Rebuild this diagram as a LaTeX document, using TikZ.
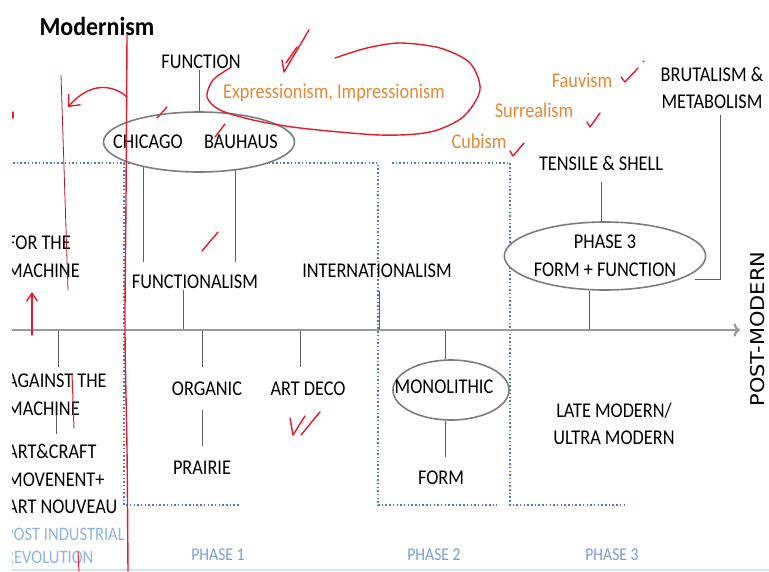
\documentclass[tikz,border=0pt]{standalone}
\usepackage{fontspec}
\setmainfont{Carlito}[FakeStretch=0.87]
\newfontfamily\titlefont{Carlito}[FakeStretch=0.92]
\newfontfamily\sidefont{DejaVu Sans}[FakeStretch=1.1]
\usepackage{tikz}
\definecolor{penred}{RGB}{225,28,45}
\definecolor{inkgray}{RGB}{95,95,95}
\definecolor{ovalgray}{RGB}{125,125,125}
\definecolor{axisgray}{RGB}{155,155,155}
\definecolor{dotblue}{RGB}{80,122,190}
\definecolor{artorange}{RGB}{228,136,56}
\definecolor{paleblue}{RGB}{141,180,226}
\definecolor{phaseblue}{RGB}{118,158,214}
\definecolor{baseblue}{RGB}{205,232,247}
\usetikzlibrary{positioning,backgrounds,shapes.geometric,arrows.meta}
\tikzset{%
  word/.style={font=\fontsize{21}{27.5}\selectfont, text=black, inner sep=1pt, align=center},% caption
  side/.style={word, anchor=west, align=left, inner sep=0pt},% cut at the left edge
  art/.style={word, text=artorange},% art movements
  phase/.style={font=\fontsize{18}{20}\selectfont, text=phaseblue},
  oval/.style={draw=ovalgray, line width=1.6pt, ellipse, fill=white, inner sep=0pt},
  stem/.style={draw=inkgray, line width=0.9pt},
  timeline/.style={draw=axisgray, line width=2.2pt, ->},
  bracket/.style={draw=dotblue, line width=1.5pt, dash pattern=on 1.5pt off 2.2pt},% phase borders
  pen/.style={draw=penred, line width=1.4pt, line cap=round, line join=round},% red marker
  tick/.style={pen}% check marks
}

\begin{document}
\begin{tikzpicture}[x=1pt, y=-1pt]
\useasboundingbox (0,0) rectangle (769,571);
\clip (12,0) rectangle (769,571);

\node[font=\titlefont\bfseries\fontsize{26}{30}\selectfont] (title) at (97,26) {Modernism};

\coordinate (axisL) at (12,330);
\coordinate (axisR) at (740,330);
\coordinate (baseL) at (12,570);
\coordinate (baseR) at (769,570);
\draw[timeline] (axisL) -- (axisR);
\draw[baseblue, line width=1.5pt] (baseL) -- (baseR);

% top row
\node[word] (function) at (201,62) {FUNCTION};
\node[oval, minimum width=191, minimum height=60] (chibau) at (199,142) {};
\node[word] (chicago) at (148,142) {CHICAGO};
\node[word] (bauhaus) at (241,142) {BAUHAUS};
\node[art] (expr) at (334,93) {Expressionism, Impressionism};
\node[art] (fauvism) at (582,80) {Fauvism};
\node[art] (surreal) at (534,110) {Surrealism};
\node[art] (cubism) at (479,141) {Cubism};
\node[word] (brutal) at (712,88) {BRUTALISM \&\\METABOLISM};
\node[word] (tensile) at (601,163) {TENSILE \& SHELL};
\node[word, oval, minimum width=193, minimum height=68] (phase3) at (605,256) {PHASE 3\\FORM + FUNCTION};

% above the line
\node[side] (forMachine) at (7,257) {FOR THE\\MACHINE};
\node[word] (functionalism) at (195,282) {FUNCTIONALISM};
\node[word] (intl) at (377,271) {INTERNATIONALISM};

% below the line
\node[side] (against) at (7,395) {AGAINST THE\\MACHINE};
\node[side] (artcraft) at (7,479) {ART\&CRAFT\\MOVENENT+\\ART NOUVEAU};
\node[side, text=paleblue, font=\fontsize{19}{23}\selectfont] (postind) at (5,546) {POST INDUSTRIAL\\REVOLUTION};
\node[word] (organic) at (207,389) {ORGANIC};
\node[word] (prairie) at (202,468) {PRAIRIE};
\node[word] (artdeco) at (308,389) {ART DECO};
\node[oval, minimum width=116, minimum height=60] (monoOval) at (451,390) {};
\node[word] (mono) at (444,387) {MONOLITHIC};
\node[word] (form) at (441,478) {FORM};
\node[word] (late) at (614,424) {LATE MODERN/\\ULTRA MODERN};

\node[phase] (ph1) at (218,555) {PHASE 1};
\node[phase] (ph2) at (434,555) {PHASE 2};
\node[phase] (ph3) at (612,555) {PHASE 3};
\node[rotate=90, font=\sidefont\fontsize{19}{22}\selectfont] (postmod) at (758,329) {POST-MODERN};

\coordinate (chiFoot) at (143,262);
\coordinate (bauFoot) at (235,262);
\coordinate (tAgainst) at (58,330);
\coordinate (tFunc) at (183,330);
\coordinate (tOrganic) at (202,330);
\coordinate (tDeco) at (300,330);
\coordinate (tIntl) at (379,330);
\coordinate (tMono) at (445,330);
\coordinate (tPhase) at (589,330);
\coordinate (bTurn) at (720,279);
\coordinate (bEnd) at (695,279);

\begin{scope}[on background layer]
  \draw[bracket] (13,163) -- (124,163) -- (124,505) -- (240,505);
  \draw[bracket] (128,163) -- (378,163) -- (378,505) -- (497,505);
  \draw[bracket] (392,163) -- (510,163) -- (510,505) -- (627,505);

  \draw[stem] (chibau.north |- function.south) -- (chibau.north);
  \draw[stem] (chiFoot) -- (chiFoot |- chibau.center);
  \draw[stem] (bauFoot) -- (bauFoot |- chibau.center);
  \draw[stem] (tFunc) -- (tFunc |- functionalism.south);
  \draw[stem, shorten >=12pt] (tIntl) -- (tIntl |- intl.south);
  \draw[stem, shorten >=7pt] (tAgainst) -- (tAgainst |- against.north);
  \draw[stem, shorten <=-2pt, shorten >=10pt] (against.south) -- (against.south |- artcraft.north);
  \draw[stem, shorten >=14pt] (tOrganic) -- (tOrganic |- organic.north);
  \draw[stem, shorten <=13pt, shorten >=14pt] (tOrganic |- organic.south) -- (tOrganic |- prairie.north);
  \draw[stem, shorten >=14pt] (tDeco) -- (tDeco |- artdeco.north);
  \draw[stem] (tMono) -- (tMono |- monoOval.north);
  \draw[stem, shorten >=13pt] (tMono |- monoOval.south) -- (tMono |- form.north);
  \draw[stem] (tPhase) -- (tPhase |- phase3.south);
  \draw[stem, shorten <=11pt] (tensile.south) -- (tensile.south |- phase3.north);
  \draw[stem, shorten <=5pt] (brutal.south -| bTurn) -- (bTurn) -- (bEnd);
\end{scope}

% red marker notes
\draw[pen] plot[smooth] coordinates {(127,35) (126,200) (125,330) (127,450) (128,571)};
\draw[pen, -{Straight Barb[length=9pt, width=16pt]}] (127,97) .. controls (112,84) and (90,82) .. (68,107);
\draw[penred!80!black, line width=0.8pt] (61,75) -- (68,290);
\draw[pen, -{Straight Barb[length=8pt, width=11pt]}] (32,335) -- (32,292);
\draw[pen] (13,112) -- (13,118);
\draw[pen, line width=1pt] (72,373) -- (74,428);
\draw[pen, line width=1pt] (78,552) -- (79,571);
\draw[pen] plot[smooth] coordinates {(230,68) (213,80) (207,97) (220,110) (253,120) (300,128) (380,135) (430,132) (463,117) (480,90) (470,63) (440,48) (400,43) (367,48) (335,58)};

\draw[tick] (157,118) -- (167,107);
\draw[tick] (215,137) -- (225,124);
\draw[tick] (282,60) -- (284,72) -- (309,30);
\draw[tick] (286,63) -- (297,47);
\draw[tick] (202,251) -- (218,232);
\draw[tick] (290,418) -- (293,435) -- (305,416);
\draw[tick] (301,435) -- (320,412);
\draw[tick] (621,77) -- (625,82) -- (638,68);
\draw[tick] (643,62) -- (644,61);
\draw[tick] (587,122) -- (590,127) -- (600,113);
\draw[tick] (510,151) -- (513,156) -- (524,143);
\end{tikzpicture}
\end{document}
